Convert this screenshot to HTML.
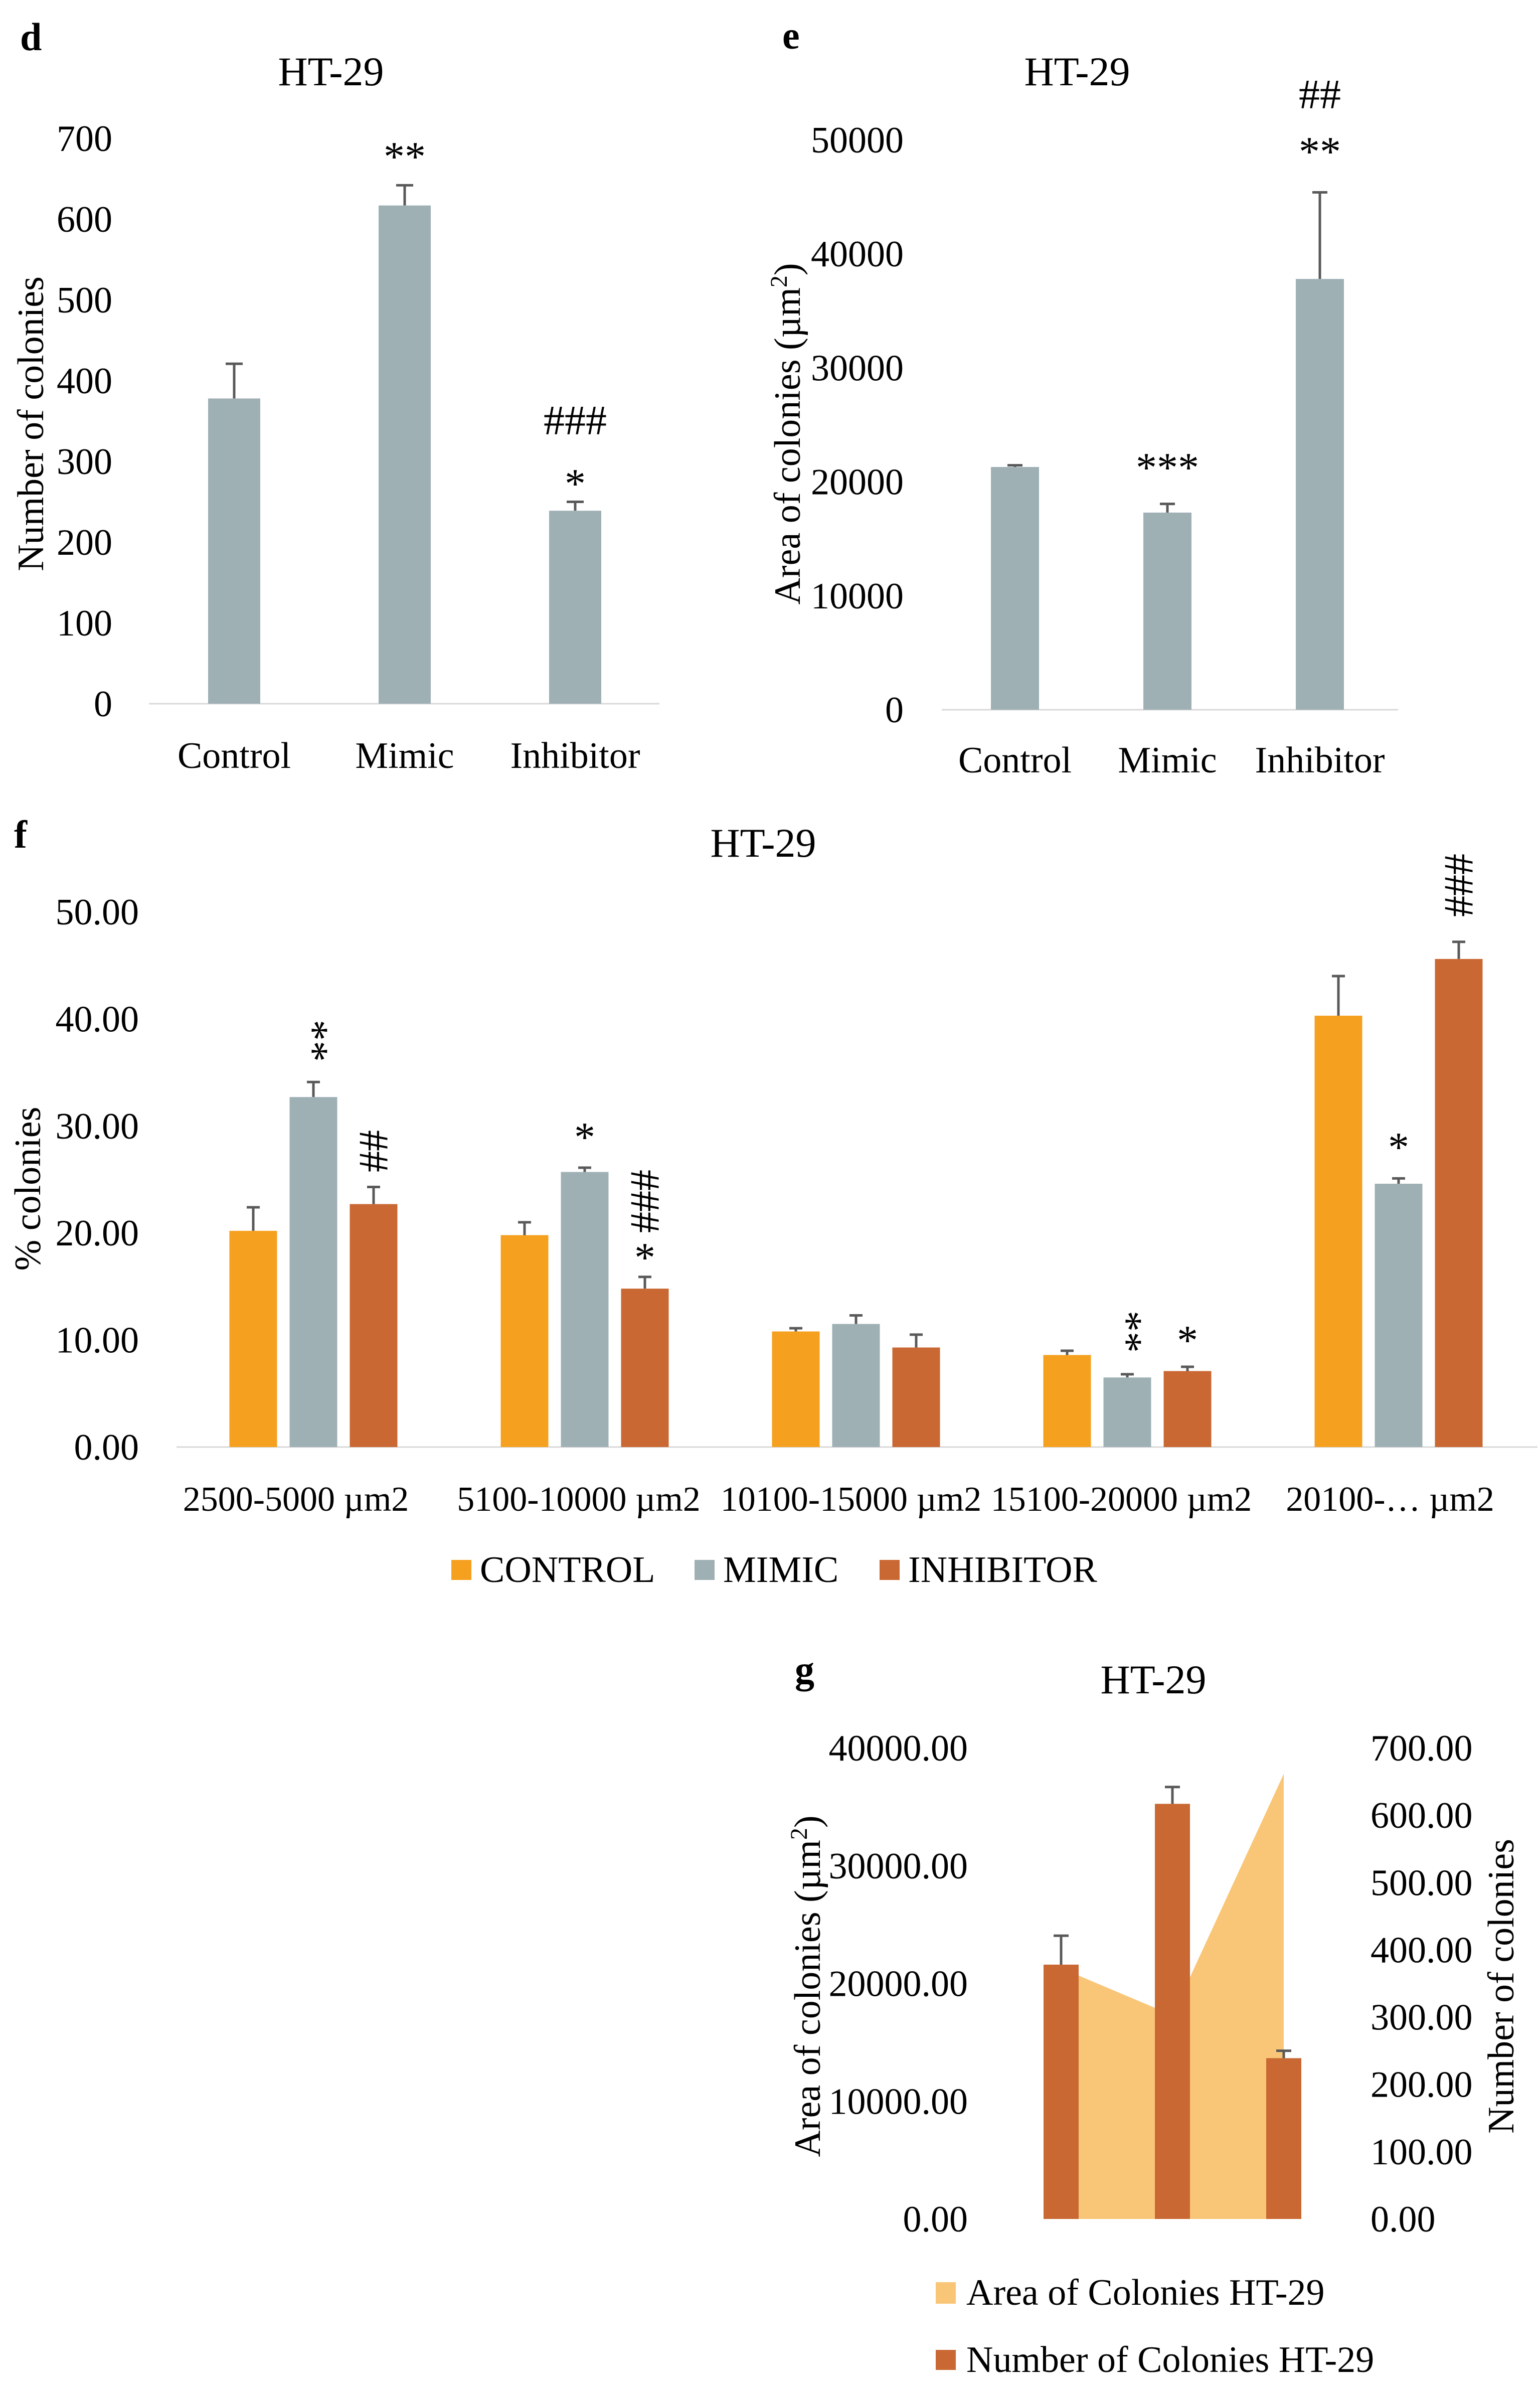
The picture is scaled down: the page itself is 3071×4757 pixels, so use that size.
<!DOCTYPE html>
<html><head><meta charset="utf-8"><style>
html,body{margin:0;padding:0;background:#fff;}
svg{display:block;font-family:"Liberation Serif",serif;}
</style></head><body>
<svg id="fig" width="3071" height="4757" viewBox="0 0 3071 4757" xmlns="http://www.w3.org/2000/svg"></svg>
<script>
// ---- data ----
const dCategories = ["Control","Mimic","Inhibitor"];
const dValues = [378, 617, 239];
const dErrors = [421, 642, 250];
const dTicks = [0,100,200,300,400,500,600,700];

const eCategories = ["Control","Mimic","Inhibitor"];
const eValues = [21300, 17300, 37800];
const eErrors = [21450, 18060, 45400];
const eTicks = [0,10000,20000,30000,40000,50000];

const fCategories = ["2500-5000 µm2","5100-10000 µm2","10100-15000 µm2","15100-20000 µm2","20100-… µm2"];
const fControl = [20.2, 19.8, 10.8, 8.6, 40.3];
const fControlErr = [22.4, 21.0, 11.1, 9.0, 44.0];
const fMimic = [32.7, 25.7, 11.5, 6.5, 24.6];
const fMimicErr = [34.1, 26.1, 12.3, 6.8, 25.1];
const fInhib = [22.7, 14.8, 9.3, 7.1, 45.6];
const fInhibErr = [24.3, 15.9, 10.5, 7.5, 47.2];
const fTicks = ["0.00","10.00","20.00","30.00","40.00","50.00"];
const fSeriesNames = ["CONTROL","MIMIC","INHIBITOR"];

const gArea = [21300, 17300, 37800];
const gCount = [378, 617, 239];
const gCountErr = [421, 642, 250];
const gLeftTicks = ["0.00","10000.00","20000.00","30000.00","40000.00"];
const gRightTicks = ["0.00","100.00","200.00","300.00","400.00","500.00","600.00","700.00"];

const NS = "http://www.w3.org/2000/svg";
const svg = document.getElementById("fig");
const GRAY = "#9fb0b5", ORANGE = "#f5a11f", DARK = "#c96832", AREA = "#f9c677", ERR = "#595959";
const FS = 74, TS = 82, AS = 84;
function mk(tag, attrs, txt){
  const e = document.createElementNS(NS, tag);
  for (const k in attrs) e.setAttribute(k, attrs[k]);
  if (txt !== undefined) e.textContent = txt;
  svg.appendChild(e);
  return e;
}
function txt(x,y,s,size,anchor,extra){
  const a = Object.assign({x:x,y:y,"font-size":size,"text-anchor":anchor||"middle",fill:"#000"}, extra||{});
  return mk("text", a, s);
}
function errbar(x,y0,y1,cap){
  return mk("path",{d:`M${x},${y0}V${y1}M${x-cap},${y1}H${x+cap}`,stroke:ERR,"stroke-width":5,fill:"none"});
}

// ---- panel d ----
(function(){
  const y0 = 1403, yPer = (1403-276)/700;
  const yS = v => y0 - v*yPer;
  const xC = i => 467 + i*340;
  const bw = 104;
  let t = txt(40,100,"d",78,"start",{"font-weight":"bold"});
  
  
  t = txt(660,170,"HT-29",TS);
  
  
  dTicks.forEach(v=>{
    const e = txt(224, yS(v)+25, String(v), FS, "end");
    
    
  });
  const ax = mk("line",{x1:297,x2:1315,y1:y0,y2:y0,stroke:"#d9d9d9","stroke-width":3});
  
  
  dValues.forEach((v,i)=>{
    const eb = errbar(xC(i), yS(v), yS(dErrors[i]), 17);
    
    
    const r = mk("rect",{x:xC(i)-bw/2,y:yS(v),width:bw,height:y0-yS(v),fill:GRAY});
    
    
    const l = txt(xC(i),1531,dCategories[i],FS);
    
    
  });
  const yt = txt(0,0,"Number of colonies",FS,"middle",{transform:"translate(86,845) rotate(-90)"});
  
  
  let a = txt(xC(1),340,"**",AS);
  
  
  a = txt(xC(2),866,"###",AS);
  
  
  a = txt(xC(2),992,"*",AS);
  
  
})();

// ---- panel e ----
(function(){
  const y0 = 1415, yPer = (1415-279)/50000;
  const yS = v => y0 - v*yPer;
  const xC = i => 2024 + i*304;
  const bw = 96;
  let t = txt(1560,97,"e",78,"start",{"font-weight":"bold"});
  
  
  t = txt(2148,170,"HT-29",TS);
  
  
  eTicks.forEach(v=>{
    const e = txt(1802, yS(v)+25, String(v), FS, "end");
    
    
  });
  const ax = mk("line",{x1:1878,x2:2788,y1:y0,y2:y0,stroke:"#d9d9d9","stroke-width":3});
  
  
  eValues.forEach((v,i)=>{
    const eb = errbar(xC(i), yS(v), yS(eErrors[i]), 15);
    
    
    const r = mk("rect",{x:xC(i)-bw/2,y:yS(v),width:bw,height:y0-yS(v),fill:GRAY});
    
    
    const l = txt(xC(i),1540,eCategories[i],FS);
    
    
  });
  const yt = mk("text",{transform:"translate(1595,865) rotate(-90)","font-size":FS,"text-anchor":"middle"});
  yt.innerHTML = 'Area of colonies (µm<tspan dy="-26" font-size="48">2</tspan><tspan dy="26">)</tspan>';
  
  
  let a = txt(xC(1),960,"***",AS);
  
  
  a = txt(xC(2),216,"##",AS);
  
  
  a = txt(xC(2),330,"**",AS);
  
  
})();

// ---- panel f ----
(function(){
  const y0 = 2885, yPer = (2885-1818)/50;
  const yS = v => y0 - v*yPer;
  const gC = i => 625 + i*541;
  const bw = 95, off = 120;
  let t = txt(28,1690,"f",78,"start",{"font-weight":"bold"});
  
  
  t = txt(1522,1708,"HT-29",TS);
  
  
  fTicks.forEach((s,i)=>{
    const e = txt(277, yS(i*10)+25, s, FS, "end");
    
    
  });
  const ax = mk("line",{x1:352,x2:3066,y1:y0,y2:y0,stroke:"#d9d9d9","stroke-width":3});
  
  
  const series = [[fControl,fControlErr,ORANGE],[fMimic,fMimicErr,GRAY],[fInhib,fInhibErr,DARK]];
  fCategories.forEach((c,i)=>{
    series.forEach((s,k)=>{
      const x = gC(i) + (k-1)*off;
      const v = s[0][i];
      const eb = errbar(x, yS(v), yS(s[1][i]), 13);
      
      
      const r = mk("rect",{x:x-bw/2,y:yS(v),width:bw,height:y0-yS(v),fill:s[2]});
      
      
    });
  });
  const lblX = [590, 1154, 1697, 2236, 2772];
  fCategories.forEach((c,i)=>{
    const l = txt(lblX[i],3012,c,70);
    
    
  });
  const yt = txt(0,0,"% colonies",FS,"middle",{transform:"translate(80,2370) rotate(-90)"});
  
  
  function rot(x,y,s,name){
    const e = txt(0,0,s,AS,"middle",{transform:`translate(${x},${y}) rotate(90)`,"dominant-baseline":"central"});
    
    
  }
  function up(x,y,s,name){
    const e = txt(x,y,s,AS);
    
    
  }
  rot(gC(0), 2075, "**", 'f-sig-g1-mimic');
  rot(gC(0)+off, 2295, "##", 'f-sig-g1-inhibitor');
  up(gC(1), 2295, "*", 'f-sig-g2-mimic');
  rot(gC(1)+off, 2395, "###", 'f-sig-g2-inhibitor-hash');
  up(gC(1)+off, 2535, "*", 'f-sig-g2-inhibitor');
  rot(gC(3), 2655, "**", 'f-sig-g4-mimic');
  up(gC(3)+off, 2700, "*", 'f-sig-g4-inhibitor');
  up(gC(4), 2315, "*", 'f-sig-g5-mimic');
  rot(gC(4)+off, 1765, "###", 'f-sig-g5-inhibitor');
  const lx = [900, 1385, 1754], cols = [ORANGE, GRAY, DARK];
  fSeriesNames.forEach((n,k)=>{
    const sq = mk("rect",{x:lx[k],y:3110,width:40,height:40,fill:cols[k]});
    
    
    const lt = txt(lx[k]+57,3154,n,FS,"start");
    
    
  });
})();

// ---- panel g ----
(function(){
  const y0 = 4424, top = 3485;
  const yL = v => y0 - v*(y0-top)/40000;
  const yR = v => y0 - v*(y0-top)/700;
  const xC = i => 2116 + i*222;
  const bw = 70;
  let t = txt(1585,3355,"g",78,"start",{"font-weight":"bold"});
  
  
  t = txt(2300,3376,"HT-29",TS);
  
  
  gLeftTicks.forEach((s,i)=>{
    const e = txt(1930, yL(i*10000)+25, s, FS, "end");
    
    
  });
  gRightTicks.forEach((s,i)=>{
    const e = txt(2733, yR(i*100)+25, s, FS, "start");
    
    
  });
  let d = `M${xC(0)},${y0}`;
  gArea.forEach((v,i)=>{ d += `L${xC(i)},${yL(v)}`; });
  d += `L${xC(gArea.length-1)},${y0}Z`;
  const ar = mk("path",{d:d,fill:AREA});
  
  
  gCount.forEach((v,i)=>{
    const eb = errbar(xC(i), yR(v), yR(gCountErr[i]), 15);
    
    
    const r = mk("rect",{x:xC(i)-bw/2,y:yR(v),width:bw,height:y0-yR(v),fill:DARK});
    
    
  });
  const yt = mk("text",{transform:"translate(1635,3960) rotate(-90)","font-size":FS,"text-anchor":"middle"});
  yt.innerHTML = 'Area of colonies (µm<tspan dy="-26" font-size="48">2</tspan><tspan dy="26">)</tspan>';
  
  
  const yt2 = txt(0,0,"Number of colonies",FS,"middle",{transform:"translate(3018,3960) rotate(-90)"});
  
  
  let sq = mk("rect",{x:1866,y:4550,width:40,height:43,fill:AREA});
  
  
  let lt = txt(1927,4595,"Area of Colonies HT-29",FS,"start");
  
  
  sq = mk("rect",{x:1866,y:4685,width:40,height:40,fill:DARK});
  
  
  lt = txt(1927,4729,"Number of Colonies HT-29",FS,"start");
  
  
})();
</script>
</body></html>
